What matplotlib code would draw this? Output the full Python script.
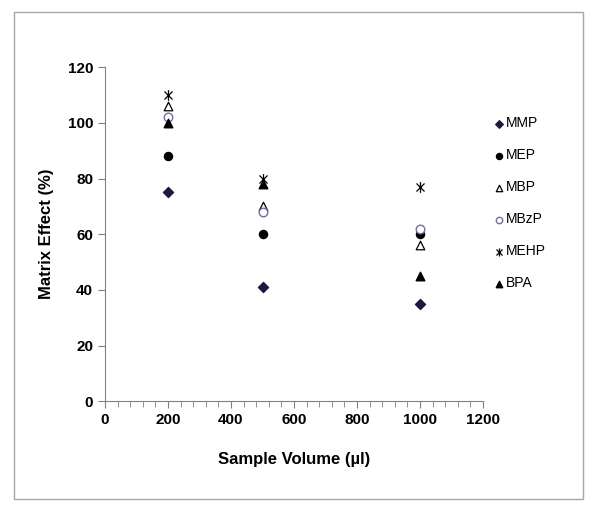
# Matrix effect vs sample volume scatter chart

import matplotlib.pyplot as plt
from matplotlib.patches import Rectangle
from matplotlib.path import Path
from matplotlib.ticker import MultipleLocator

plt.rcParams['font.family'] = ['Liberation Sans', 'DejaVu Sans']

volumes = [200, 500, 1000]
mmp = [75, 41, 35]
mep = [88, 60, 60]
mbp = [106, 70, 56]
mbzp = [102, 68, 62]
mehp = [110, 80, 77]
bpa = [100, 78, 45]

# Excel-style star marker: an X with a vertical stroke
star = Path([(0, -1), (0, 1), (-0.75, -0.75), (0.75, 0.75), (-0.75, 0.75), (0.75, -0.75)],
            [Path.MOVETO, Path.LINETO, Path.MOVETO, Path.LINETO, Path.MOVETO, Path.LINETO])

fig = plt.figure(figsize=(6, 5.13), dpi=100)
fig.patches.append(Rectangle((0.023, 0.027), 0.948, 0.949, transform=fig.transFigure,
                             fill=False, edgecolor="#a6a6a6", linewidth=1.0))
ax = fig.add_axes([0.175, 0.218, 0.63, 0.651])

ax.scatter(volumes, mmp, marker="D", s=26, color="#1c1a40", label="MMP", zorder=3)
ax.scatter(volumes, mep, marker="o", s=34, color="black", label="MEP", zorder=3)
ax.scatter(volumes, mbp, marker="^", s=38, facecolor="white", edgecolor="black",
           linewidth=0.9, label="MBP", zorder=3)
ax.scatter(volumes, mbzp, marker="o", s=38, facecolor="white", edgecolor="#7070a0",
           linewidth=1.0, label="MBzP", zorder=3)
ax.scatter(volumes, mehp, marker=star, s=60, color="black", linewidth=0.9,
           label="MEHP", zorder=3)
ax.scatter(volumes, bpa, marker="^", s=38, color="black", label="BPA", zorder=3)

ax.set_xlim(0, 1200)
ax.set_ylim(0, 120)
ax.xaxis.set_major_locator(MultipleLocator(200))
ax.xaxis.set_minor_locator(MultipleLocator(40))
ax.yaxis.set_major_locator(MultipleLocator(20))

for side in ["top", "right"]:
    ax.spines[side].set_visible(False)
for side in ["left", "bottom"]:
    ax.spines[side].set_color("#808080")
ax.tick_params(axis="both", which="both", color="#808080", direction="out")
ax.tick_params(axis="both", which="major", length=5, labelsize=11)
ax.tick_params(axis="x", which="minor", length=4)
for lbl in ax.get_xticklabels() + ax.get_yticklabels():
    lbl.set_fontweight("bold")

ax.set_xlabel("Sample Volume (µl)", fontsize=12, fontweight="bold", labelpad=18)
ax.set_ylabel("Matrix Effect (%)", fontsize=12, fontweight="bold", labelpad=10)

ax.legend(loc="upper left", bbox_to_anchor=(1.01, 0.87), frameon=False,
          handletextpad=0.0, labelspacing=1.3, fontsize=10, markerscale=0.75,
          handlelength=1.0, borderaxespad=0)

fig.savefig("out.png", dpi=100)
